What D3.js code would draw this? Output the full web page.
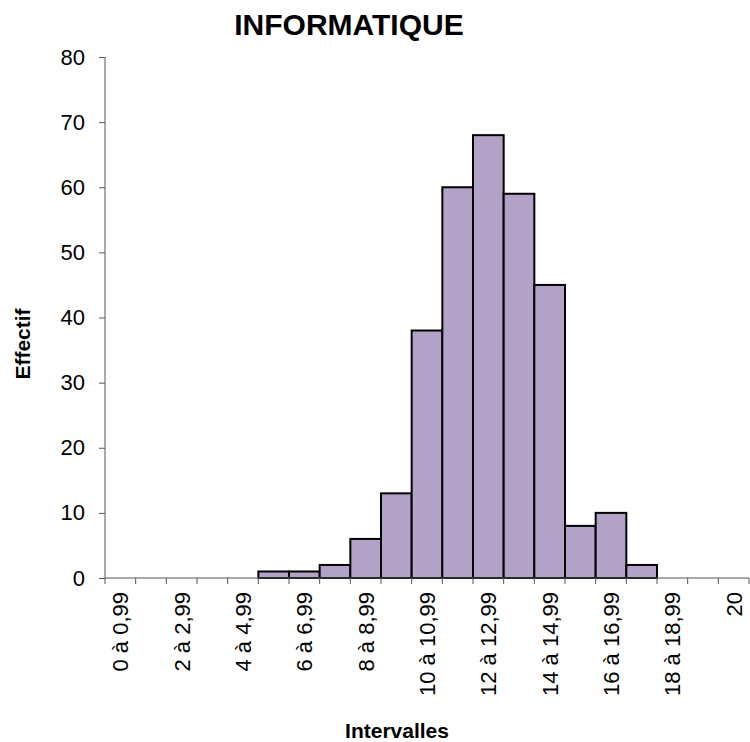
<!DOCTYPE html>
<html>
<head>
<meta charset="utf-8">
<script src="https://cdn.jsdelivr.net/npm/d3@7"></script>
<style>
  body { margin: 0; background: #fff; }
  svg { display: block; font-family: "Liberation Sans", Arial, sans-serif; }
</style>
</head>
<body>
<svg id="chart" width="750" height="742"></svg>
<script>
// categories (one per note interval), only every other one is labelled
const intervals = [
  "0 à 0,99", "1 à 1,99", "2 à 2,99", "3 à 3,99", "4 à 4,99", "5 à 5,99",
  "6 à 6,99", "7 à 7,99", "8 à 8,99", "9 à 9,99", "10 à 10,99", "11 à 11,99",
  "12 à 12,99", "13 à 13,99", "14 à 14,99", "15 à 15,99", "16 à 16,99",
  "17 à 17,99", "18 à 18,99", "19 à 19,99", "20"
];
const effectif = [0, 0, 0, 0, 0, 1, 1, 2, 6, 13, 38, 60, 68, 59, 45, 8, 10, 2, 0, 0, 0];
const yTicks = [0, 10, 20, 30, 40, 50, 60, 70, 80];

const svg = d3.select("#chart");
const margin = { left: 105, right: 1, top: 57, bottom: 164 };
const width = 750 - margin.left - margin.right;
const height = 742 - margin.top - margin.bottom;

const g = svg.append("g").attr("transform", `translate(${margin.left},${margin.top})`);

const x = d3.scaleBand().domain(intervals).range([0, width]).padding(0);
const y = d3.scaleLinear().domain([0, 80]).range([height, 0]);

// bars
g.selectAll("rect.bar")
  .data(intervals.map((d, i) => ({ name: d, value: effectif[i] })).filter((d) => d.value > 0))
  .enter()
  .append("rect")
  .attr("class", "bar")
  .attr("x", (d) => x(d.name))
  .attr("y", (d) => y(d.value))
  .attr("width", x.bandwidth())
  .attr("height", (d) => y(0) - y(d.value))
  .attr("fill", "#b3a2c7")
  .attr("stroke", "#000")
  .attr("stroke-width", 2);

// y axis
const yAxis = g.append("g")
  .call(d3.axisLeft(y).tickValues(yTicks).tickSize(6).tickPadding(14));
yAxis.select(".domain").attr("stroke", "#555").attr("d", `M0,${height}V0`);
yAxis.selectAll(".tick line").attr("stroke", "#555");
yAxis.selectAll(".tick text").style("font-size", "22px").attr("fill", "#000");

// x axis: ticks on category boundaries
const xAxis = g.append("g").attr("transform", `translate(0,${height})`);
xAxis.append("line")
  .attr("x1", 0).attr("x2", width)
  .attr("stroke", "#555");
xAxis.selectAll("line.tk")
  .data(intervals.map((d) => x(d)).concat([width]))
  .enter()
  .append("line")
  .attr("class", "tk")
  .attr("x1", (d) => d).attr("x2", (d) => d)
  .attr("y1", 0).attr("y2", 6)
  .attr("stroke", "#555");
xAxis.selectAll("text")
  .data(intervals.filter((d, i) => i % 2 === 0))
  .enter()
  .append("text")
  .attr("transform", (d) => `translate(${x(d) + x.bandwidth() / 2 + 8},14) rotate(-90)`)
  .attr("text-anchor", "end")
  .style("font-size", "22px")
  .text((d) => d);

// titles
svg.append("text")
  .attr("x", 349).attr("y", 35)
  .attr("text-anchor", "middle")
  .style("font-size", "30px").style("font-weight", "bold")
  .text("INFORMATIQUE");

svg.append("text")
  .attr("x", 397).attr("y", 738)
  .attr("text-anchor", "middle")
  .style("font-size", "21px").style("font-weight", "bold")
  .text("Intervalles");

svg.append("text")
  .attr("transform", "translate(30,344) rotate(-90)")
  .attr("text-anchor", "middle")
  .style("font-size", "21px").style("font-weight", "bold")
  .text("Effectif");
</script>
</body>
</html>
